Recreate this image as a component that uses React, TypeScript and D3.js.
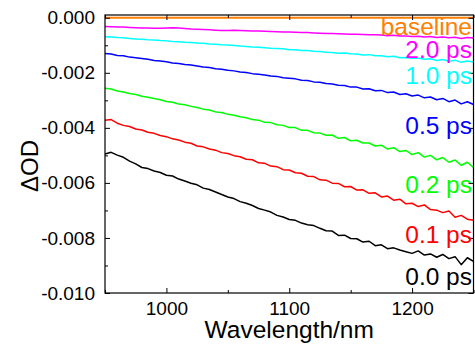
import React, { useEffect, useRef } from 'react';
import * as d3 from 'd3';

// wavelength grid (nm)
const wavelengths = [
  950, 955, 960, 965, 970, 975, 980, 985, 990, 995,
  1000, 1005, 1010, 1015, 1020, 1025, 1030, 1035, 1040, 1045,
  1050, 1055, 1060, 1065, 1070, 1075, 1080, 1085, 1090, 1095,
  1100, 1105, 1110, 1115, 1120, 1125, 1130, 1135, 1140, 1145,
  1150, 1155, 1160, 1165, 1170, 1175, 1180, 1185, 1190, 1195,
  1200, 1205, 1210, 1215, 1220, 1225, 1230, 1235, 1240, 1245, 1250,
];

// ΔOD values in units of 1e-3, one array per delay
const od00 = [
  -4.95, -4.89, -4.99, -5.07, -5.21, -5.31, -5.44, -5.48, -5.57, -5.62,
  -5.72, -5.75, -5.86, -5.93, -6.01, -6.07, -6.19, -6.24, -6.33, -6.42,
  -6.51, -6.57, -6.68, -6.74, -6.82, -6.93, -6.99, -7.06, -7.18, -7.24,
  -7.33, -7.36, -7.46, -7.52, -7.55, -7.65, -7.74, -7.75, -7.91, -7.90,
  -8.02, -8.03, -8.15, -8.12, -8.28, -8.25, -8.39, -8.36, -8.44, -8.50,
  -8.56, -8.47, -8.62, -8.58, -8.70, -8.60, -8.75, -8.68, -8.97, -8.72, -8.85,
];
const od01 = [
  -3.72, -3.70, -3.83, -3.91, -3.95, -4.04, -4.08, -4.16, -4.20, -4.28,
  -4.32, -4.40, -4.44, -4.52, -4.56, -4.66, -4.69, -4.77, -4.81, -4.90,
  -4.93, -5.01, -5.05, -5.14, -5.16, -5.27, -5.29, -5.39, -5.41, -5.52,
  -5.53, -5.63, -5.65, -5.76, -5.77, -5.89, -5.90, -6.01, -6.02, -6.14,
  -6.13, -6.26, -6.25, -6.38, -6.36, -6.51, -6.48, -6.63, -6.59, -6.76,
  -6.74, -6.86, -6.80, -6.97, -6.99, -7.08, -7.02, -7.25, -7.18, -7.32, -7.36,
];
const od02 = [
  -2.56, -2.59, -2.66, -2.70, -2.75, -2.79, -2.85, -2.89, -2.93, -2.98,
  -3.04, -3.07, -3.13, -3.16, -3.22, -3.26, -3.32, -3.35, -3.42, -3.44,
  -3.51, -3.54, -3.60, -3.63, -3.70, -3.72, -3.80, -3.81, -3.89, -3.91,
  -3.99, -3.99, -4.09, -4.09, -4.18, -4.19, -4.27, -4.26, -4.38, -4.35,
  -4.47, -4.45, -4.55, -4.55, -4.66, -4.63, -4.77, -4.72, -4.86, -4.82,
  -4.97, -4.90, -5.06, -5.00, -5.16, -5.08, -5.25, -5.17, -5.36, -5.25, -5.44,
];
const od05 = [
  -1.30, -1.32, -1.37, -1.38, -1.43, -1.45, -1.48, -1.51, -1.55, -1.57,
  -1.60, -1.64, -1.66, -1.70, -1.72, -1.75, -1.79, -1.81, -1.85, -1.87,
  -1.91, -1.93, -1.97, -1.99, -2.03, -2.05, -2.08, -2.12, -2.13, -2.18,
  -2.20, -2.22, -2.27, -2.28, -2.33, -2.34, -2.39, -2.41, -2.45, -2.46,
  -2.52, -2.52, -2.59, -2.58, -2.65, -2.64, -2.72, -2.70, -2.79, -2.76,
  -2.84, -2.81, -2.91, -2.88, -2.98, -2.93, -3.05, -2.99, -3.13, -3.05, -3.15,
];
const od10 = [
  -0.69, -0.70, -0.72, -0.73, -0.75, -0.77, -0.78, -0.80, -0.81, -0.83,
  -0.84, -0.86, -0.87, -0.89, -0.90, -0.92, -0.93, -0.95, -0.96, -0.98,
  -0.99, -1.01, -1.03, -1.04, -1.06, -1.07, -1.09, -1.11, -1.12, -1.13,
  -1.16, -1.16, -1.19, -1.19, -1.22, -1.23, -1.25, -1.26, -1.29, -1.28,
  -1.31, -1.32, -1.35, -1.34, -1.38, -1.38, -1.42, -1.40, -1.45, -1.44,
  -1.47, -1.46, -1.51, -1.49, -1.55, -1.52, -1.58, -1.54, -1.62, -1.57, -1.61,
];
const od20 = [
  -0.32, -0.33, -0.34, -0.34, -0.35, -0.36, -0.37, -0.37, -0.38, -0.38,
  -0.37, -0.36, -0.37, -0.39, -0.41, -0.42, -0.43, -0.44, -0.45, -0.46,
  -0.46, -0.45, -0.46, -0.47, -0.48, -0.48, -0.49, -0.50, -0.51, -0.52,
  -0.52, -0.53, -0.54, -0.54, -0.55, -0.56, -0.57, -0.57, -0.58, -0.59,
  -0.60, -0.60, -0.61, -0.62, -0.62, -0.63, -0.65, -0.64, -0.66, -0.66,
  -0.68, -0.67, -0.70, -0.68, -0.72, -0.70, -0.73, -0.71, -0.75, -0.72, -0.74,
];
const baselineWl = [950, 1250];
const baselineOD = [0, 0];

const labels = ['baseline', '2.0 ps', '1.0 ps', '0.5 ps', '0.2 ps', '0.1 ps', '0.0 ps'];
const labelY = [35, 58, 84, 134, 193, 243, 285];
const colors = ['#ff8000', '#ff00ff', '#00ffff', '#0000ff', '#00ff00', '#ff0000', '#000000'];

const xMajor = [1000, 1100, 1200];
const xMinor = [950, 1050, 1150, 1250];
const yMajor = [-0.01, -0.008, -0.006, -0.004, -0.002, 0];
const yMinor = [-0.009, -0.007, -0.005, -0.003, -0.001];

const FONT = 'Arial, "Liberation Sans", sans-serif';

function App() {
  const svgRef = useRef(null);

  useEffect(() => {
    const W = 475, H = 345;
    const margin = { top: 15, right: 1.5, bottom: 52, left: 105 };
    const width = W - margin.left - margin.right;
    const height = H - margin.top - margin.bottom;

    d3.select(svgRef.current).selectAll('*').remove();
    const svg = d3.select(svgRef.current).attr('width', W).attr('height', H);
    const g = svg.append('g').attr('transform', `translate(${margin.left},${margin.top})`);

    const x = d3.scaleLinear().domain([950, 1250]).range([0, width]);
    const y = d3.scaleLinear().domain([-0.01, 0.0001]).range([height, 0]);

    const series = [
      baselineOD.map((v, i) => [baselineWl[i], v]),
      od20.map((v, i) => [wavelengths[i], v]),
      od10.map((v, i) => [wavelengths[i], v]),
      od05.map((v, i) => [wavelengths[i], v]),
      od02.map((v, i) => [wavelengths[i], v]),
      od01.map((v, i) => [wavelengths[i], v]),
      od00.map((v, i) => [wavelengths[i], v]),
    ];

    const line = d3.line()
      .x(d => x(d[0]))
      .y(d => y(d[1] / 1000));

    g.append('g')
      .selectAll('path')
      .data(series)
      .join('path')
      .attr('d', d => line(d))
      .attr('fill', 'none')
      .attr('stroke', (d, i) => colors[i])
      .attr('stroke-width', (d, i) => (i === 0 ? 2.2 : 1.5))
      .attr('stroke-linejoin', 'round');

    // axes: inward ticks on all four sides
    const styleAxis = sel => {
      sel.select('.domain').remove();
      sel.selectAll('line').attr('stroke', '#000');
      sel.selectAll('text').attr('font-family', FONT).attr('font-size', 19).attr('fill', '#000');
    };

    g.append('g')
      .attr('transform', `translate(0,${height})`)
      .call(d3.axisBottom(x).tickValues(xMajor).tickSize(-5).tickPadding(9).tickFormat(d3.format('d')))
      .call(styleAxis);
    g.append('g')
      .attr('transform', `translate(0,${height})`)
      .call(d3.axisBottom(x).tickValues(xMinor).tickSize(-3).tickFormat(() => ''))
      .call(styleAxis);
    g.append('g')
      .call(d3.axisTop(x).tickValues(xMajor).tickSize(-5).tickFormat(() => ''))
      .call(styleAxis);
    g.append('g')
      .call(d3.axisTop(x).tickValues(xMinor).tickSize(-3).tickFormat(() => ''))
      .call(styleAxis);

    g.append('g')
      .call(d3.axisLeft(y).tickValues(yMajor).tickSize(-5).tickPadding(10).tickFormat(d => d.toFixed(3)))
      .call(styleAxis);
    g.append('g')
      .call(d3.axisLeft(y).tickValues(yMinor).tickSize(-3).tickFormat(() => ''))
      .call(styleAxis);
    g.append('g')
      .attr('transform', `translate(${width},0)`)
      .call(d3.axisRight(y).tickValues(yMajor).tickSize(-5).tickFormat(() => ''))
      .call(styleAxis);

    g.append('rect')
      .attr('x', 0).attr('y', 0)
      .attr('width', width).attr('height', height)
      .attr('fill', 'none').attr('stroke', '#000').attr('stroke-width', 1.2);

    // series labels
    svg.append('g')
      .selectAll('text')
      .data(labels)
      .join('text')
      .attr('x', 472)
      .attr('y', (d, i) => labelY[i])
      .attr('text-anchor', 'end')
      .attr('font-family', FONT)
      .attr('font-size', 24.5)
      .attr('fill', (d, i) => colors[i])
      .text(d => d);

    // axis titles
    svg.append('text')
      .attr('x', margin.left + width / 2)
      .attr('y', 338)
      .attr('text-anchor', 'middle')
      .attr('font-family', FONT)
      .attr('font-size', 24.5)
      .text('Wavelength/nm');

    svg.append('text')
      .attr('transform', `translate(38,${margin.top + height / 2 + 12}) rotate(-90)`)
      .attr('text-anchor', 'middle')
      .attr('font-family', FONT)
      .attr('font-size', 24)
      .text('ΔOD');
  }, []);

  return (
    <svg ref={svgRef} style={{ position: 'absolute', left: 0, top: 0, background: '#fff' }}></svg>
  );
}

export default App;
